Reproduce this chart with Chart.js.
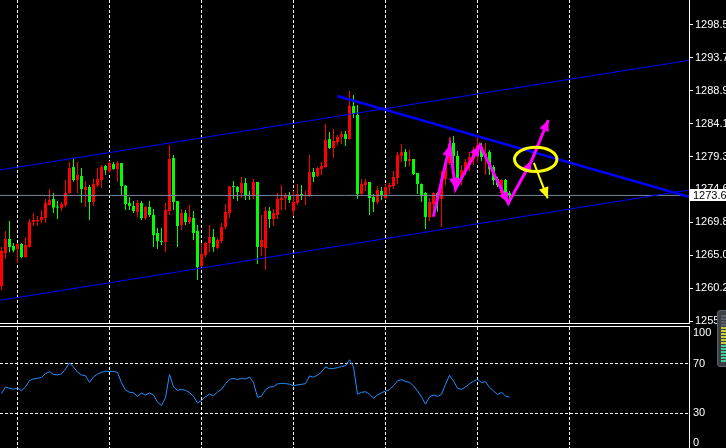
<!DOCTYPE html>
<html>
<head>
<meta charset="utf-8">
<script src="https://cdn.jsdelivr.net/npm/chart.js@4.4.1/dist/chart.umd.min.js"></script>
<style>
    html, body { margin: 0; padding: 0; background: #000; width: 726px; height: 448px; overflow: hidden; }
    #painel { position: relative; width: 726px; height: 448px; }
    #grafico-preco { position: absolute; left: 0; top: 0; z-index: 2; }
    #grafico-rsi { position: absolute; left: 0; top: 326px; z-index: 1; }
    #medidor {
        position: absolute; left: 717px; top: 310px; width: 12px; height: 57px; z-index: 3;
        background: #3c3f44; border: 1px solid #5a5e66; border-radius: 3px; box-sizing: border-box;
    }
    #medidor div {
        position: absolute; left: 3px; top: 4px; width: 5px; height: 48px;
        background: repeating-linear-gradient(to bottom, rgba(0,0,0,0) 0 2px, #3c3f44 2px 3px),
                    linear-gradient(to bottom, #5a5e66 0 22%, #c8cf3a 22% 62%, #3fcf9a 62% 100%);
    }
</style>
</head>
<body>
<div id="painel">
    <canvas id="grafico-preco" width="726" height="334"></canvas>
    <canvas id="grafico-rsi" width="726" height="122"></canvas>
    <div id="medidor"><div></div></div>
</div>
<script>
// Candles (um por barra, barra 0 = primeira da esquerda)
const aberturas = [
    1260.49, 1265.29, 1267.33, 1266.31, 1265.88, 1266.60, 1264.71, 1266.17, 1269.80, 1269.90,
    1270.09, 1270.38, 1272.28, 1273.15, 1271.98, 1271.84, 1272.28, 1274.02, 1277.80, 1275.91,
    1276.49, 1274.46, 1274.89, 1272.71, 1275.18, 1275.91, 1277.95, 1277.22, 1278.24, 1277.51,
    1278.38, 1275.10, 1272.57, 1272.13, 1271.25, 1272.57, 1270.38, 1271.98, 1270.82, 1268.20,
    1267.04, 1266.89, 1271.40, 1279.11, 1272.86, 1269.36, 1271.11, 1269.80, 1270.38, 1268.49,
    1263.40, 1265.00, 1266.75, 1267.62, 1266.02, 1267.04, 1269.08, 1271.11, 1275.04, 1274.89,
    1274.02, 1275.47, 1273.73, 1273.58, 1275.62, 1266.17, 1266.02, 1271.40, 1270.24, 1270.82,
    1273.00, 1273.29, 1273.73, 1271.40, 1272.57, 1273.87, 1273.58, 1273.58, 1277.07, 1276.49,
    1277.51, 1277.80, 1281.87, 1280.57, 1281.44, 1282.17, 1282.60, 1281.87, 1286.67, 1285.37,
    1273.87, 1275.18, 1275.62, 1273.44, 1272.71, 1274.31, 1273.29, 1274.89, 1275.04, 1276.20,
    1279.40, 1279.98, 1278.68, 1278.97, 1276.93, 1275.33, 1274.02, 1270.53, 1272.42, 1274.02,
    1273.15, 1276.06, 1278.38, 1281.29, 1279.40, 1275.91, 1277.22, 1278.09, 1278.97, 1279.84,
    1280.71, 1279.26, 1279.98, 1277.80, 1276.06, 1274.02, 1275.91, 1274.02
];
const maximas = [
    1266.17, 1268.49, 1269.95, 1266.75, 1266.75, 1266.75, 1267.62, 1270.24, 1271.11, 1270.67,
    1271.55, 1273.15, 1274.60, 1274.02, 1272.86, 1272.71, 1275.91, 1278.53, 1278.97, 1278.53,
    1277.66, 1275.77, 1275.18, 1276.06, 1277.66, 1278.09, 1278.09, 1278.68, 1278.53, 1278.68,
    1278.40, 1275.18, 1273.44, 1272.86, 1273.00, 1272.86, 1272.13, 1272.86, 1271.69, 1268.93,
    1268.93, 1272.57, 1281.00, 1279.55, 1272.86, 1271.69, 1271.55, 1272.28, 1271.40, 1269.36,
    1266.75, 1266.89, 1269.36, 1268.78, 1267.47, 1269.66, 1272.42, 1275.04, 1275.77, 1275.04,
    1276.35, 1276.20, 1274.31, 1276.06, 1275.62, 1270.82, 1271.98, 1271.98, 1271.69, 1274.02,
    1275.18, 1274.02, 1274.16, 1274.31, 1275.33, 1275.18, 1274.31, 1279.55, 1277.66, 1277.80,
    1278.53, 1284.06, 1282.89, 1283.33, 1282.46, 1283.04, 1283.04, 1288.86, 1288.28, 1286.82,
    1276.06, 1276.06, 1275.62, 1273.87, 1275.04, 1274.89, 1275.33, 1275.47, 1277.22, 1279.98,
    1281.15, 1280.42, 1280.27, 1278.97, 1276.93, 1275.40, 1274.16, 1273.29, 1274.16, 1274.16,
    1277.22, 1278.68, 1282.17, 1282.31, 1280.13, 1278.09, 1278.97, 1280.03, 1280.71, 1282.17,
    1281.29, 1281.29, 1280.27, 1278.09, 1276.35, 1276.06, 1276.06, 1274.31
];
const minimas = [
    1259.91, 1264.42, 1265.39, 1265.39, 1263.79, 1264.52, 1264.60, 1266.10, 1269.22, 1269.22,
    1269.66, 1269.71, 1272.20, 1271.11, 1270.24, 1271.40, 1271.98, 1273.90, 1275.67, 1274.02,
    1272.57, 1271.98, 1270.09, 1272.13, 1274.89, 1274.75, 1276.64, 1276.93, 1277.40, 1275.62,
    1273.73, 1271.55, 1271.55, 1271.11, 1270.53, 1270.09, 1270.09, 1270.53, 1266.17, 1265.88,
    1266.46, 1265.44, 1270.82, 1271.55, 1266.17, 1268.64, 1269.36, 1269.51, 1267.18, 1261.37,
    1263.26, 1264.71, 1265.44, 1265.49, 1265.87, 1266.75, 1268.78, 1270.38, 1273.15, 1272.86,
    1273.29, 1273.00, 1273.00, 1273.15, 1263.69, 1264.86, 1262.82, 1268.93, 1269.22, 1270.24,
    1271.55, 1271.55, 1272.57, 1270.67, 1272.27, 1273.00, 1272.27, 1273.44, 1275.62, 1276.35,
    1276.64, 1277.70, 1280.42, 1279.11, 1281.00, 1281.15, 1280.86, 1281.80, 1284.93, 1273.15,
    1273.80, 1274.31, 1270.82, 1271.26, 1272.42, 1273.00, 1273.20, 1273.87, 1274.60, 1275.33,
    1278.53, 1277.80, 1277.95, 1276.64, 1273.87, 1272.71, 1268.78, 1269.95, 1270.82, 1271.30,
    1269.08, 1275.18, 1278.09, 1276.64, 1275.18, 1275.18, 1276.64, 1277.22, 1278.09, 1278.34,
    1278.68, 1276.64, 1276.64, 1275.18, 1274.89, 1273.73, 1273.44, 1272.40
];
const fechamentos = [
    1265.58, 1267.33, 1266.17, 1265.68, 1266.60, 1264.71, 1266.46, 1269.80, 1270.09, 1270.09,
    1270.53, 1272.57, 1273.00, 1271.89, 1271.89, 1272.42, 1274.02, 1277.66, 1275.91, 1276.64,
    1274.60, 1274.89, 1272.71, 1275.33, 1276.06, 1277.80, 1277.37, 1278.38, 1277.51, 1278.38,
    1275.04, 1272.42, 1272.13, 1271.40, 1272.57, 1270.38, 1271.98, 1270.82, 1267.91, 1267.04,
    1266.89, 1271.55, 1278.97, 1272.71, 1269.22, 1271.11, 1269.80, 1270.53, 1268.20, 1263.26,
    1265.15, 1266.75, 1267.62, 1266.17, 1267.18, 1269.08, 1271.26, 1275.00, 1274.89, 1274.16,
    1275.47, 1273.58, 1273.58, 1275.62, 1266.17, 1267.18, 1271.40, 1270.24, 1271.11, 1273.15,
    1273.29, 1273.73, 1273.00, 1272.71, 1273.87, 1273.58, 1273.73, 1277.07, 1276.35, 1277.66,
    1277.95, 1281.73, 1280.57, 1281.58, 1282.17, 1282.60, 1281.87, 1286.67, 1285.51, 1273.87,
    1275.33, 1275.62, 1273.29, 1272.71, 1274.46, 1273.58, 1274.89, 1275.18, 1276.35, 1279.55,
    1279.98, 1278.68, 1278.97, 1276.78, 1275.33, 1273.58, 1270.53, 1272.71, 1274.02, 1273.15,
    1276.06, 1278.38, 1281.15, 1279.40, 1275.91, 1277.37, 1278.53, 1279.26, 1280.27, 1281.00,
    1279.26, 1279.84, 1277.51, 1275.91, 1275.18, 1275.91, 1273.87, 1273.67
];

// RSI da janela inferior
const rsiValores = [
    46, 51.4, 50.3, 49.6, 50.5, 48.4, 51.4, 56.6, 57.9, 58.4,
    59.1, 62.2, 63.7, 61.6, 61.1, 62, 66, 71, 67.5, 63.4,
    61.1, 60.5, 55, 59.5, 61.8, 63.3, 64.2, 63.9, 64, 63.2,
    54.9, 48.8, 47.1, 46.6, 43.8, 46.4, 44.8, 46.5, 44.8, 39.1,
    36.3, 42.6, 61.5, 51.4, 48.6, 49.4, 48.6, 46.8, 43.7, 38.4,
    40.4, 43.5, 45.5, 44.3, 47.3, 49.5, 53.9, 57.6, 58.3, 57.5,
    58.2, 57.8, 59.4, 55, 43, 43.9, 49.1, 51.3, 51.6, 53.8,
    54.3, 54.2, 53.5, 52.4, 53.1, 53.5, 54, 60.3, 59.3, 60.9,
    63.5, 67.7, 66.1, 66.4, 67, 67.9, 68.6, 73.4, 67.5, 45.5,
    47, 47.5, 45.4, 42.3, 44.9, 46.7, 48, 49.1, 52.5, 56.3,
    57.3, 55.9, 55.1, 52.2, 48.2, 43.3, 37.4, 43.3, 44.8, 43.7,
    45.4, 53.5, 60.8, 56.2, 50.3, 49.3, 51.4, 53.9, 56, 57.5,
    55, 55.6, 51, 48.2, 45.2, 47, 44, 43
];

const rotulosPreco = [1298.50, 1293.70, 1288.90, 1284.10, 1279.30, 1274.60, 1269.80, 1265.00, 1260.20, 1255.40];
const rotulosRsi = [100, 70, 30, 0];
const niveisRsi = [70, 30];
const barrasGrade = [4, 27, 50, 73, 96, 119, 142];
const precoAtual = 1273.67;

// Linhas desenhadas (barra, preço)
const canalSuperior = [{ x: -0.375, y: 1277.37 }, { x: 171.875, y: 1293.32 }];
const canalInferior = [{ x: -0.375, y: 1258.41 }, { x: 171.875, y: 1274.46 }];
const linhaBaixa = [{ x: 83.95, y: 1288.13 }, { x: 171.875, y: 1273.48 }];
const zigueZague = [
    { x: 107.95, y: 1270.57 }, { x: 112.1, y: 1281.00 }, { x: 113.5, y: 1274.60 },
    { x: 119.6, y: 1281.00 }, { x: 126.7, y: 1272.52 }, { x: 132.5, y: 1278.67 }, { x: 136.7, y: 1284.64 }
];
const setaAmarela = [{ x: 133.1, y: 1278.39 }, { x: 136.55, y: 1273.25 }];
const elipseAlvo = { x: 133.55, y: 1278.92, rx: 5.3, ry: 1.77 };

const COR_ALTA = '#ff0000';
const COR_BAIXA = '#00ff00';
const FONTE = '"Liberation Sans", Arial, sans-serif';

const coresCandles = fechamentos.map((f, i) => f >= aberturas[i] ? COR_ALTA : COR_BAIXA);

function eixoTempo() {
    return {
        type: 'linear',
        min: -0.375,
        max: 171.875,
        offset: false,
        afterBuildTicks: eixo => { eixo.ticks = barrasGrade.map(v => ({ value: v })); },
        afterFit: eixo => { eixo.height = 0; },
        ticks: { display: false },
        border: { display: false, dash: [3, 2] },
        grid: { color: '#ffffff', lineWidth: 1, drawTicks: false, offset: false }
    };
}

function desenharPonta(ctx, a, b, cor, comprimento, meia) {
    const ang = Math.atan2(b.y - a.y, b.x - a.x);
    const bx = b.x - Math.cos(ang) * comprimento;
    const by = b.y - Math.sin(ang) * comprimento;
    ctx.fillStyle = cor;
    ctx.beginPath();
    ctx.moveTo(b.x, b.y);
    ctx.lineTo(bx - Math.sin(ang) * meia, by + Math.cos(ang) * meia);
    ctx.lineTo(bx + Math.sin(ang) * meia, by - Math.cos(ang) * meia);
    ctx.closePath();
    ctx.fill();
}

const pluginDesenhos = {
    id: 'desenhos',
    afterDatasetsDraw(chart) {
        const { ctx, chartArea, scales } = chart;
        ctx.save();
        ctx.beginPath();
        ctx.rect(chartArea.left, chartArea.top, chartArea.width, chartArea.height);
        ctx.clip();

        chart.data.datasets.forEach((ds, i) => {
            if (!ds.seta) return;
            const pontos = chart.getDatasetMeta(i).data;
            for (let j = 1; j < pontos.length; j++) {
                desenharPonta(ctx, pontos[j - 1], pontos[j], ds.borderColor, 11, 5);
            }
        });

        const cx = scales.x.getPixelForValue(elipseAlvo.x);
        const cy = scales.y.getPixelForValue(elipseAlvo.y);
        const rx = Math.abs(scales.x.getPixelForValue(elipseAlvo.x + elipseAlvo.rx) - cx);
        const ry = Math.abs(scales.y.getPixelForValue(elipseAlvo.y + elipseAlvo.ry) - cy);
        ctx.strokeStyle = '#ffff00';
        ctx.lineWidth = 3;
        ctx.beginPath();
        ctx.ellipse(cx, cy, rx, ry, 0, 0, Math.PI * 2);
        ctx.stroke();
        ctx.restore();
    },
    afterDraw(chart) {
        const { ctx, chartArea, scales } = chart;
        ctx.save();
        // borda inferior da janela principal
        ctx.strokeStyle = '#ffffff';
        ctx.lineWidth = 1;
        ctx.beginPath();
        ctx.moveTo(0, chartArea.bottom + 0.5);
        ctx.lineTo(chartArea.right + 1, chartArea.bottom + 0.5);
        ctx.stroke();

        // caixa do preço atual
        const yp = scales.y.getPixelForValue(precoAtual);
        ctx.fillStyle = '#ffffff';
        ctx.fillRect(chartArea.right + 1, Math.round(yp) - 6, 40, 12);
        ctx.fillStyle = '#000000';
        ctx.font = '11px ' + FONTE;
        ctx.textBaseline = 'middle';
        ctx.textAlign = 'left';
        ctx.fillText(precoAtual.toFixed(2), chartArea.right + 4, Math.round(yp) + 0.5);
        ctx.restore();
    }
};

const pluginRotulosRsi = {
    id: 'rotulosRsi',
    afterDraw(chart) {
        const { ctx, chartArea, scales } = chart;
        ctx.save();
        ctx.strokeStyle = '#ffffff';
        ctx.lineWidth = 1;
        ctx.beginPath();
        ctx.moveTo(0, 0.5);
        ctx.lineTo(chartArea.right + 1, 0.5);
        ctx.stroke();

        ctx.fillStyle = '#ffffff';
        ctx.font = '11px ' + FONTE;
        ctx.textBaseline = 'middle';
        ctx.textAlign = 'left';
        rotulosRsi.forEach(v => {
            let y = scales.y.getPixelForValue(v);
            y = Math.min(Math.max(y, chartArea.top + 6), chartArea.bottom - 5);
            ctx.fillText(String(v), chartArea.right + 4, y);
        });
        ctx.restore();
    }
};

function linha(dados, cor, largura, ordem, extra) {
    return Object.assign({
        type: 'line',
        data: dados,
        borderColor: cor,
        borderWidth: largura,
        pointRadius: 0,
        tension: 0,
        fill: false,
        clip: 0,
        order: ordem
    }, extra || {});
}

function montarGraficoPreco() {
    const ctx = document.getElementById('grafico-preco').getContext('2d');
    new Chart(ctx, {
        type: 'bar',
        data: {
            datasets: [
                {
                    label: 'pavios',
                    data: maximas.map((m, i) => ({ x: i, y: [minimas[i], m] })),
                    backgroundColor: coresCandles,
                    barThickness: 1,
                    grouped: false,
                    inflateAmount: 0,
                    borderWidth: 0,
                    minBarLength: 1,
                    order: 6
                },
                {
                    label: 'corpos',
                    data: aberturas.map((a, i) => ({ x: i, y: [a, fechamentos[i]] })),
                    backgroundColor: coresCandles,
                    barThickness: 3,
                    grouped: false,
                    inflateAmount: 0,
                    borderWidth: 0,
                    minBarLength: 1,
                    order: 5
                },
                linha([{ x: -1, y: precoAtual }, { x: 173, y: precoAtual }], '#778899', 1, 4),
                linha(canalSuperior, '#0000ff', 1, 3),
                linha(canalInferior, '#0000ff', 1, 3),
                linha(linhaBaixa, '#0000ff', 2.5, 3),
                linha(zigueZague, '#ff00ff', 3, 2, { seta: true }),
                linha(setaAmarela, '#ffff00', 2, 1, { seta: true })
            ]
        },
        options: {
            responsive: false,
            animation: false,
            devicePixelRatio: 1,
            layout: { padding: { left: 0, top: 0, right: 0, bottom: 11 } },
            plugins: { legend: { display: false }, tooltip: { enabled: false } },
            scales: {
                x: eixoTempo(),
                y: {
                    position: 'right',
                    min: 1255.111,
                    max: 1302.093,
                    beginAtZero: false,
                    afterBuildTicks: eixo => { eixo.ticks = rotulosPreco.map(v => ({ value: v })); },
                    afterFit: eixo => {
                        eixo.width = 37;
                        eixo.paddingTop = 0;
                        eixo.paddingBottom = 0;
                    },
                    ticks: {
                        color: '#ffffff',
                        padding: 2,
                        font: { family: FONTE, size: 11 },
                        callback: v => Number(v).toFixed(2)
                    },
                    border: { display: true, color: '#ffffff', width: 1 },
                    grid: { drawOnChartArea: false, drawTicks: true, tickLength: 4, color: '#ffffff' }
                }
            }
        },
        plugins: [pluginDesenhos]
    });
}

function montarGraficoRsi() {
    const ctx = document.getElementById('grafico-rsi').getContext('2d');
    new Chart(ctx, {
        type: 'line',
        data: {
            datasets: [
                linha(rsiValores.map((v, i) => ({ x: i, y: v })), '#1e90ff', 1, 0)
            ]
        },
        options: {
            responsive: false,
            animation: false,
            devicePixelRatio: 1,
            layout: { padding: { left: 0, top: 1, right: 0, bottom: 0 } },
            plugins: { legend: { display: false }, tooltip: { enabled: false } },
            scales: {
                x: eixoTempo(),
                y: {
                    position: 'right',
                    min: 1.85,
                    max: 100,
                    afterBuildTicks: eixo => { eixo.ticks = rotulosRsi.map(v => ({ value: v })); },
                    afterFit: eixo => {
                        eixo.width = 37;
                        eixo.paddingTop = 0;
                        eixo.paddingBottom = 0;
                    },
                    ticks: { display: false },
                    border: { display: true, color: '#ffffff', width: 1, dash: [3, 2] },
                    grid: {
                        drawTicks: false,
                        color: c => (c.tick && niveisRsi.includes(c.tick.value)) ? '#ffffff' : 'rgba(0,0,0,0)'
                    }
                }
            }
        },
        plugins: [pluginRotulosRsi]
    });
}

document.addEventListener('DOMContentLoaded', () => {
    montarGraficoPreco();
    montarGraficoRsi();
});
</script>
</body>
</html>
